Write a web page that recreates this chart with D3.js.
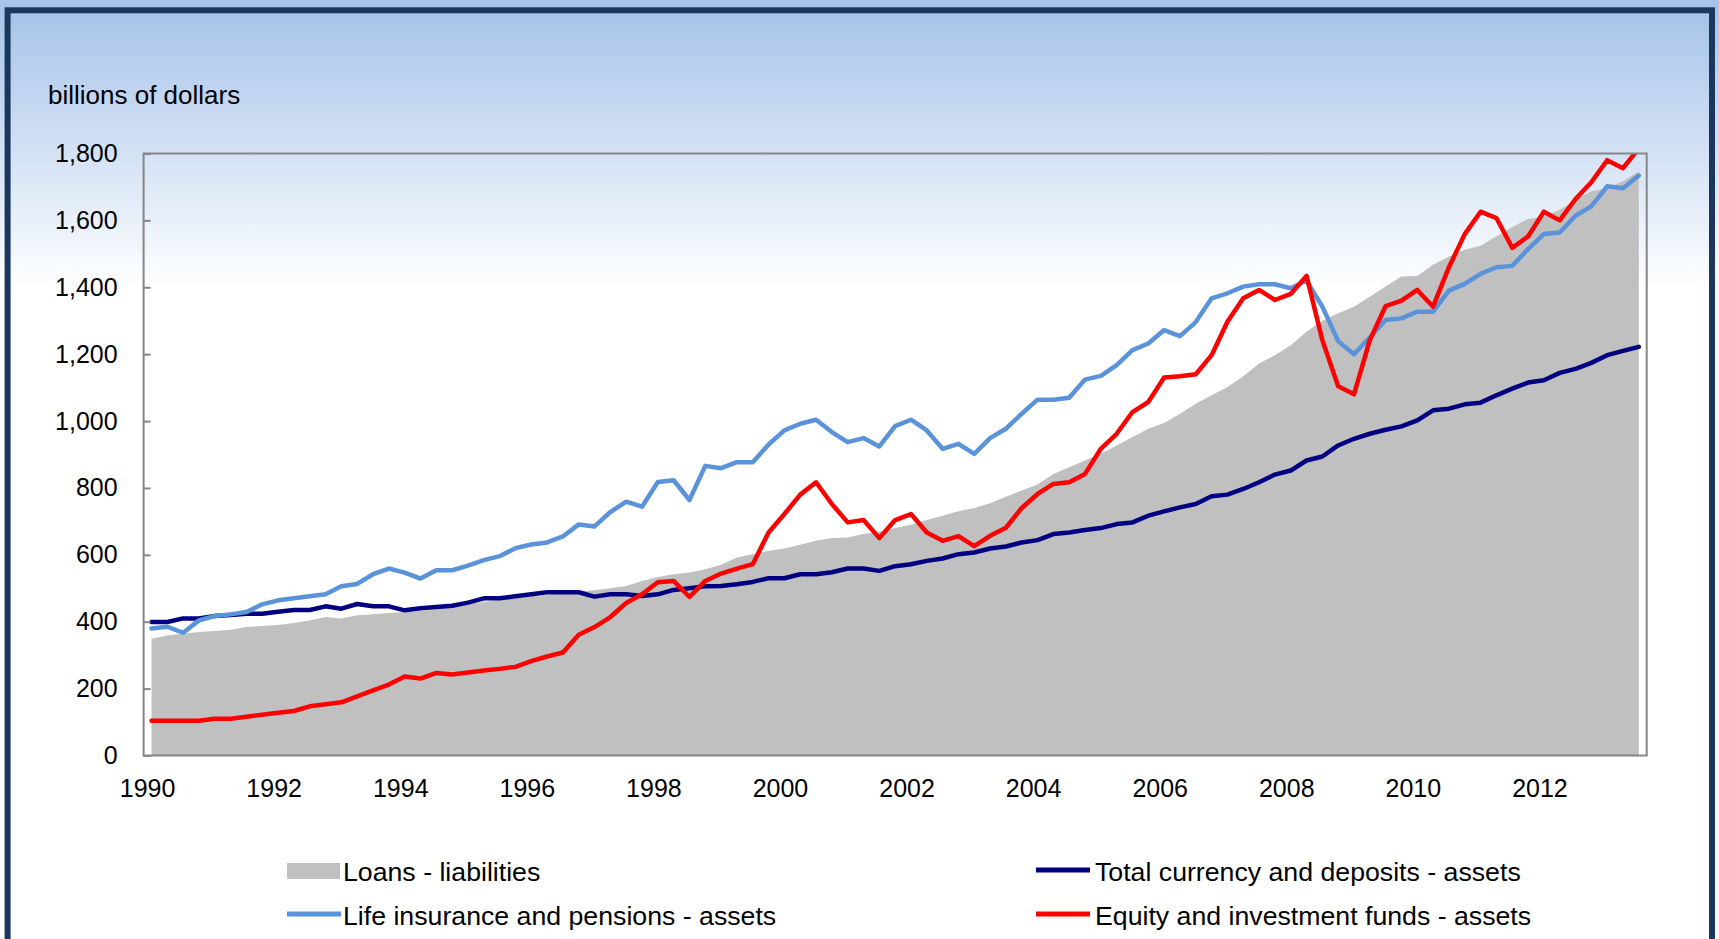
<!DOCTYPE html>
<html lang="en">
  <head>
    <meta charset="utf-8">
    <title>Household assets and liabilities | billions of dollars</title>

    <!-- D3 -->
    <script type="text/javascript" src="https://d3js.org/d3.v7.min.js"></script>

    <style>
      body {
        margin: 0;
        overflow: hidden;
        background: #ffffff;
        font-family: 'Liberation Sans', Arial, sans-serif;
      }
      .plot-border {
        fill: none;
        stroke: #868686;
        stroke-width: 2;
      }
      .y-axis .domain {
        display: none;
      }
      .y-axis line {
        stroke: #868686;
        stroke-width: 2;
      }
      .y-axis text,
      .x-label {
        font-size: 25px;
        fill: #000000;
      }
      .series-line {
        fill: none;
        stroke-width: 4.5;
        stroke-linejoin: round;
        stroke-linecap: round;
      }
      .legend-text {
        font-size: 26.7px;
        fill: #000000;
      }
    </style>
  </head>
  <body>
    <div id="chart"></div>

    <script type="text/javascript">

      // quarterly data, 1990 Q1 - 2013 Q3 (billions of dollars)
      var startYear = 1990;

      var loans = [
        349, 359, 364, 369, 372, 376, 384, 387, 390, 396, 404, 414, 410, 419, 422, 426, 429, 432, 437,
        445, 452, 460, 466, 470, 476, 480, 486, 490, 494, 500, 507, 522, 534, 542, 547, 557,
        570, 592, 602, 612, 619, 630, 642, 650, 652, 662, 670, 680, 690, 704, 717, 730, 740, 754, 774,
        792, 810, 842, 862, 882, 902, 927, 952, 977, 994, 1022, 1052, 1077, 1102, 1134, 1172, 1197, 1227, 1267,
        1300, 1322, 1342, 1372, 1402, 1432, 1434, 1467, 1492, 1512, 1524, 1552, 1580, 1604, 1612, 1632, 1662, 1687, 1697, 1717, 1747
      ];

      var deposits = [
        399, 399, 410, 410, 417, 420, 424, 424, 430, 435, 435, 446, 439, 453, 446, 446, 434, 440,
        444, 448, 457, 470, 470, 476, 482, 488, 488, 488, 475, 482, 482, 477, 482, 495, 500, 506,
        507, 512, 519, 530, 530, 542, 542, 548, 559, 559, 552, 566, 572, 582, 589, 602, 607, 619, 625,
        637, 644, 662, 667, 674, 680, 692, 697, 717, 730, 742, 752, 775, 780, 797, 817, 840, 852, 882,
        894, 927, 947, 962, 974, 984, 1002, 1032, 1037, 1050, 1055, 1077, 1097, 1115, 1122, 1144, 1156, 1174, 1197, 1210, 1222
      ];

      var lifeInsurance = [
        380, 385, 367, 404, 417, 422, 429, 452, 464, 470, 476, 482, 506, 513, 542, 559, 547, 529,
        554, 554, 568, 584, 596, 620, 631, 637, 655, 691, 685, 728, 759, 744, 818, 823, 764, 866,
        859, 877, 877, 930, 972, 992, 1004, 967, 937, 949, 924, 985, 1004, 972, 917, 932, 902, 949, 977,
        1022, 1064, 1064, 1070, 1124, 1135, 1167, 1212, 1232, 1272, 1254, 1296, 1367, 1382, 1402, 1409, 1409, 1397, 1420,
        1342, 1239, 1200, 1250, 1302, 1307, 1327, 1327, 1390, 1410, 1440, 1460, 1464, 1514, 1559, 1564, 1614, 1642, 1702, 1696, 1734
      ];

      var equityFunds = [
        104, 104, 104, 104, 110, 110, 116, 122, 128, 133, 147, 153, 159, 177, 195, 212, 236, 230,
        247, 242, 248, 254, 259, 265, 282, 296, 308, 361, 384, 414, 456, 482, 518, 522, 474, 522,
        544, 559, 572, 667, 722, 780, 817, 752, 697, 704, 650, 704, 722, 667, 642, 656, 626, 657, 681,
        740, 782, 812, 817, 842, 917, 962, 1027, 1057, 1130, 1134, 1140, 1197, 1297, 1367, 1392, 1362, 1380, 1434,
        1242, 1104, 1080, 1242, 1344, 1360, 1392, 1342, 1460, 1559, 1626, 1607, 1518, 1552, 1626, 1600, 1664, 1714, 1780, 1756, 1815
      ];

      var yTicks = [0, 200, 400, 600, 800, 1000, 1200, 1400, 1600, 1800];
      var xTickLabels = ['1990', '1992', '1994', '1996', '1998', '2000', '2002', '2004', '2006', '2008', '2010', '2012'];

      var seriesNames = [
        'Loans - liabilities',
        'Total currency and deposits - assets',
        'Life insurance and pensions - assets',
        'Equity and investment funds - assets'
      ];
      var seriesColors = ['#c0c0c0', '#000080', '#5a93da', '#ff0000'];

      // category labels for each quarter
      var quarters = loans.map(function(d, i) {
        return (startYear + Math.floor(i / 4)) + ' Q' + (i % 4 + 1);
      });

      var w = 1719;
      var h = 939;
      var plot = { left: 143.6, right: 1646.7, top: 153.5, bottom: 755.5 };

      var svg = d3.select('#chart')
        .append('svg')
          .attr('width', w)
          .attr('height', h);

      var defs = svg.append('defs');

      var grad = defs.append('linearGradient')
        .attr('id', 'bg-grad')
        .attr('gradientUnits', 'userSpaceOnUse')
        .attr('x1', 0).attr('y1', 10)
        .attr('x2', 0).attr('y2', 290);
      grad.append('stop').attr('offset', 0).attr('stop-color', '#a7c3ea');
      grad.append('stop').attr('offset', 1).attr('stop-color', '#ffffff');

      defs.append('clipPath')
        .attr('id', 'plot-clip')
        .append('rect')
          .attr('x', plot.left)
          .attr('y', plot.top)
          .attr('width', plot.right - plot.left)
          .attr('height', plot.bottom - plot.top);

      // background + dark frame
      svg.append('rect')
        .attr('width', w)
        .attr('height', h)
        .attr('fill', 'url(#bg-grad)');

      svg.append('rect')
        .attr('x', 7.6)
        .attr('y', 10.3)
        .attr('width', 1704.4)
        .attr('height', 960)
        .attr('fill', 'none')
        .attr('stroke', '#1b375d')
        .attr('stroke-width', 6);

      // scales
      var x = d3.scaleBand()
        .domain(quarters)
        .range([plot.left, plot.right])
        .padding(0);

      var y = d3.scaleLinear()
        .domain([0, 1800])
        .range([plot.bottom, plot.top]);

      function cx(i) {
        return x(quarters[i]) + x.bandwidth() / 2;
      }

      var chartGroup = svg.append('g')
        .attr('clip-path', 'url(#plot-clip)');

      // loans area
      var area = d3.area()
        .x(function(d, i) { return cx(i); })
        .y0(y(0))
        .y1(function(d) { return y(d); });

      chartGroup.append('path')
        .datum(loans)
        .attr('d', area)
        .attr('fill', seriesColors[0]);

      // asset lines
      var line = d3.line()
        .x(function(d, i) { return cx(i); })
        .y(function(d) { return y(d); });

      var lineSeries = [deposits, lifeInsurance, equityFunds];

      chartGroup.selectAll('.series-line')
        .data(lineSeries)
        .enter()
        .append('path')
          .attr('class', 'series-line')
          .attr('d', line)
          .attr('stroke', function(d, i) { return seriesColors[i + 1]; });

      // plot border
      svg.append('rect')
        .attr('class', 'plot-border')
        .attr('x', plot.left)
        .attr('y', plot.top)
        .attr('width', plot.right - plot.left)
        .attr('height', plot.bottom - plot.top);

      // y axis (ticks point inward)
      svg.append('g')
        .attr('class', 'y-axis')
        .attr('transform', 'translate(' + plot.left + ',0)')
        .call(d3.axisLeft(y)
          .tickValues(yTicks)
          .tickFormat(d3.format(','))
          .tickSizeInner(-7)
          .tickSizeOuter(0)
          .tickPadding(26));

      // x labels, placed at the start of each year's first quarter
      svg.selectAll('.x-label')
        .data(xTickLabels)
        .enter()
        .append('text')
          .attr('class', 'x-label')
          .attr('x', function(d) { return x(d + ' Q1') + 4; })
          .attr('y', 797)
          .attr('text-anchor', 'middle')
          .text(function(d) { return d; });

      // unit label
      svg.append('text')
        .attr('x', 48)
        .attr('y', 104)
        .style('font-size', '26px')
        .text('billions of dollars');

      // legend
      var legendPos = [
        { x: 287, y: 871 },
        { x: 1036, y: 871 },
        { x: 287, y: 915 },
        { x: 1036, y: 915 }
      ];

      var legend = svg.selectAll('.legend-item')
        .data(seriesNames)
        .enter()
        .append('g')
          .attr('class', 'legend-item')
          .attr('transform', function(d, i) {
            return 'translate(' + legendPos[i].x + ',' + legendPos[i].y + ')';
          });

      legend.each(function(d, i) {
        var g = d3.select(this);
        if (i === 0) {
          g.append('rect')
            .attr('x', 0)
            .attr('y', -8)
            .attr('width', 53)
            .attr('height', 16)
            .attr('fill', seriesColors[i]);
        } else {
          g.append('line')
            .attr('x1', 0)
            .attr('x2', 54)
            .attr('y1', -1)
            .attr('y2', -1)
            .attr('stroke', seriesColors[i])
            .attr('stroke-width', 5);
        }
        g.append('text')
          .attr('class', 'legend-text')
          .attr('x', i % 2 === 0 ? 56 : 59)
          .attr('y', 10)
          .text(d);
      });

    </script>
  </body>
</html>
